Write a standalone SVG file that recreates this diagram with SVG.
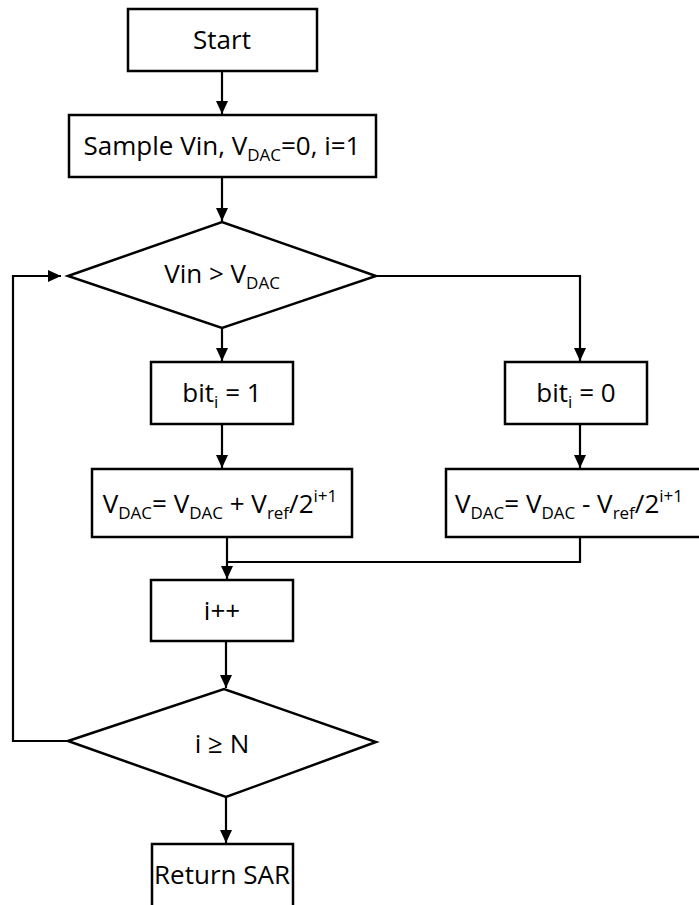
<svg xmlns="http://www.w3.org/2000/svg" width="699" height="905" viewBox="0 0 699 905">
  <style>
    .box { fill: #ffffff; stroke: #000000; stroke-width: 2.5; }
    .wire { fill: none; stroke: #000000; stroke-width: 2.2; }
    .lbl { font-family: "Open Sans", "Liberation Sans", sans-serif; font-size: 26px; fill: #000000; text-anchor: middle; }
    .sub { font-size: 17px; }
  </style>
  <defs>
    <marker id="arrow" markerUnits="userSpaceOnUse" markerWidth="14" markerHeight="12" refX="13" refY="6" orient="auto">
      <path d="M0,0 L13,6 L0,12 Z" fill="#000000"/>
    </marker>
  </defs>
  <rect width="699" height="905" fill="#ffffff"/>

  <!-- connectors -->
  <g id="connectors">
    <line class="wire" x1="222" y1="71" x2="222" y2="114" marker-end="url(#arrow)"/>
    <line class="wire" x1="222" y1="177" x2="222" y2="221" marker-end="url(#arrow)"/>
    <line class="wire" x1="222" y1="328" x2="222" y2="361" marker-end="url(#arrow)"/>
    <polyline class="wire" points="376,276 580,276 580,361" marker-end="url(#arrow)"/>
    <line class="wire" x1="222" y1="424" x2="222" y2="468" marker-end="url(#arrow)"/>
    <line class="wire" x1="580" y1="424" x2="580" y2="468" marker-end="url(#arrow)"/>
    <polyline class="wire" points="580,537 580,562 227,562"/>
    <line class="wire" x1="227" y1="537" x2="227" y2="579" marker-end="url(#arrow)"/>
    <line class="wire" x1="226" y1="641" x2="226" y2="688" marker-end="url(#arrow)"/>
    <line class="wire" x1="226" y1="797" x2="226" y2="843" marker-end="url(#arrow)"/>
    <polyline class="wire" points="68,741 13,741 13,276 61,276" marker-end="url(#arrow)"/>
  </g>

  <g id="start">
    <rect class="box" x="128" y="9" width="189" height="62"/>
    <text class="lbl" x="222" y="49">Start</text>
  </g>

  <g id="sample">
    <rect class="box" x="69" y="115" width="307" height="62"/>
    <text class="lbl" x="222" y="155">Sample Vin, V<tspan class="sub" dy="6">DAC</tspan><tspan dy="-6">=0, i=1</tspan></text>
  </g>

  <g id="compare">
    <polygon class="box" points="68,276 222,222 376,276 222,328"/>
    <text class="lbl" x="222" y="283">Vin &gt; V<tspan class="sub" dy="6">DAC</tspan></text>
  </g>

  <g id="bit-one">
    <rect class="box" x="151" y="362" width="142" height="62"/>
    <text class="lbl" x="222" y="402">bit<tspan class="sub" dy="6">i</tspan><tspan dy="-6"> = 1</tspan></text>
  </g>

  <g id="bit-zero">
    <rect class="box" x="505" y="362" width="142" height="62"/>
    <text class="lbl" x="576" y="402">bit<tspan class="sub" dy="6">i</tspan><tspan dy="-6"> = 0</tspan></text>
  </g>

  <g id="dac-up">
    <rect class="box" x="92" y="469" width="260" height="68"/>
    <text class="lbl" x="220" y="513">V<tspan class="sub" dy="6">DAC</tspan><tspan dy="-6">= V</tspan><tspan class="sub" dy="6">DAC</tspan><tspan dy="-6"> + V</tspan><tspan class="sub" dy="6">ref</tspan><tspan dy="-6">/2</tspan><tspan class="sub" dy="-11">i+1</tspan></text>
  </g>

  <g id="dac-down">
    <rect class="box" x="446" y="469" width="270" height="68"/>
    <text class="lbl" x="569" y="513">V<tspan class="sub" dy="6">DAC</tspan><tspan dy="-6">= V</tspan><tspan class="sub" dy="6">DAC</tspan><tspan dy="-6"> - V</tspan><tspan class="sub" dy="6">ref</tspan><tspan dy="-6">/2</tspan><tspan class="sub" dy="-11">i+1</tspan></text>
  </g>

  <g id="increment">
    <rect class="box" x="151" y="580" width="142" height="61"/>
    <text class="lbl" x="222" y="620">i++</text>
  </g>

  <g id="check-done">
    <polygon class="box" points="68,741 224,689 376,742 226,797"/>
    <text class="lbl" x="222" y="753">i ≥ N</text>
  </g>

  <g id="return">
    <rect class="box" x="152" y="844" width="141" height="70"/>
    <text class="lbl" x="222" y="884">Return SAR</text>
  </g>
</svg>
